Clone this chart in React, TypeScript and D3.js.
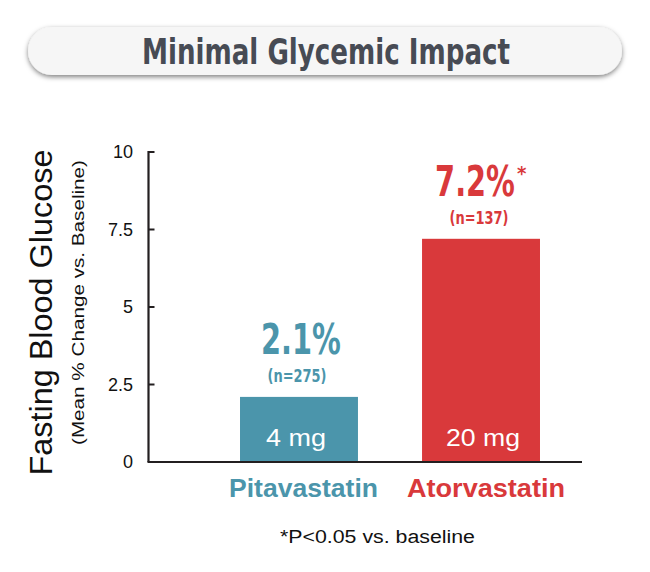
import React from "react";
import * as d3 from "d3";

const categories = ["Pitavastatin", "Atorvastatin"];
const doses = ["4 mg", "20 mg"];
const values = [2.1, 7.2];
const valueLabels = ["2.1%", "7.2%"];
const nLabels = ["(n=275)", "(n=137)"];
const significant = [false, true];
const yTicks = [0, 2.5, 5, 7.5, 10];
const yTickLabels = ["0", "2.5", "5", "7.5", "10"];
const colors = ["#4b95ab", "#d9393b"];

const W = 650;
const H = 572;

export default function App() {
  const y = d3.scaleLinear().domain([0, 10]).range([462, 152]);
  const x = d3
    .scaleBand<string>()
    .domain(categories)
    .range([149, 631])
    .paddingInner(0.352)
    .paddingOuter(0.5);
  const axisX = 148.5;
  const axisColor = "#231f20";
  const narrow = "'Liberation Sans Narrow', 'DejaVu Sans Condensed', 'Roboto Condensed', Arial, sans-serif";
  const sans = "'Liberation Sans', Arial, Helvetica, sans-serif";
  const catLabelLen = [149, 158];
  const catLabelDx = [4.5, 5];
  const doseLen = [60, 74];
  const doseDx = [-3, 2];

  return (
    <svg width={W} height={H} viewBox={`0 0 ${W} ${H}`} style={{ position: "absolute", left: 0, top: 0, background: "#fff" }}>
      <defs>
        <filter id="shadow" x="-10%" y="-50%" width="120%" height="200%">
          <feDropShadow dx="0" dy="2" stdDeviation="2.6" floodColor="#000" floodOpacity="0.5" />
        </filter>
      </defs>
      {/* title banner */}
      <rect x={28} y={27} width={594} height={48} rx={24} ry={24} fill="#f6f6f6" filter="url(#shadow)" />
      <text
        x={326}
        y={64}
        textAnchor="middle"
        fontFamily={narrow}
        fontWeight="bold"
        fontSize={36}
        fill="#474b54"
        textLength={368}
        lengthAdjust="spacingAndGlyphs"
      >
        Minimal Glycemic Impact
      </text>

      {/* y axis title */}
      <text
        transform={`translate(52,312.5) rotate(-90)`}
        textAnchor="middle"
        fontFamily={sans}
        fontSize={31}
        fill="#111"
        textLength={326}
        lengthAdjust="spacingAndGlyphs"
      >
        Fasting Blood Glucose
      </text>
      <text
        transform={`translate(84,302.5) rotate(-90)`}
        textAnchor="middle"
        fontFamily={sans}
        fontSize={17}
        fill="#111"
        textLength={285}
        lengthAdjust="spacingAndGlyphs"
      >
        (Mean % Change vs. Baseline)
      </text>

      {/* bars */}
      {categories.map((c, i) => (
        <rect
          key={c}
          x={x(c)}
          y={y(values[i])}
          width={x.bandwidth()}
          height={y(0) - y(values[i])}
          fill={colors[i]}
        />
      ))}

      {/* axes */}
      <line x1={axisX} x2={axisX} y1={y(10) - 1} y2={y(0)} stroke={axisColor} strokeWidth={2.2} />
      <line x1={axisX - 1} x2={582} y1={y(0)} y2={y(0)} stroke={axisColor} strokeWidth={2.2} />
      {yTicks.map((t, i) => (
        <g key={t}>
          {t > 0 && (
            <line x1={axisX} x2={axisX + 6} y1={y(t)} y2={y(t)} stroke={axisColor} strokeWidth={2} />
          )}
          <text
            x={133}
            y={y(t)}
            dy="0.36em"
            textAnchor="end"
            fontFamily={sans}
            fontSize={18}
            fill="#111"
          >
            {yTickLabels[i]}
          </text>
        </g>
      ))}

      {/* value labels */}
      {categories.map((c, i) => {
        const cx = (x(c) as number) + x.bandwidth() / 2;
        const top = y(values[i]);
        const vx = significant[i] ? cx - 6 : cx + 2;
        return (
          <g key={c + "lbl"}>
            <text
              transform={`translate(${vx},${top - 43}) scale(1,1.33)`}
              textAnchor="middle"
              fontFamily={narrow}
              fontWeight="bold"
              fontSize={32}
              fill={colors[i]}
            >
              {valueLabels[i]}
            </text>
            {significant[i] && (
              <text
                x={vx + 42}
                y={top - 59}
                fontFamily={narrow}
                fontWeight="bold"
                fontSize={20}
                fill={colors[i]}
              >
                *
              </text>
            )}
            <text
              x={cx - 2}
              y={top - 15}
              textAnchor="middle"
              fontFamily={narrow}
              fontWeight="bold"
              fontSize={17}
              fill={colors[i]}
              textLength={59}
              lengthAdjust="spacingAndGlyphs"
            >
              {nLabels[i]}
            </text>
            <text
              x={cx + doseDx[i]}
              y={446}
              textAnchor="middle"
              fontFamily={sans}
              fontSize={24}
              fill="#fff"
              textLength={doseLen[i]}
              lengthAdjust="spacingAndGlyphs"
            >
              {doses[i]}
            </text>
            <text
              x={cx + catLabelDx[i]}
              y={497}
              textAnchor="middle"
              fontFamily={sans}
              fontWeight="bold"
              fontSize={26}
              fill={colors[i]}
              textLength={catLabelLen[i]}
              lengthAdjust="spacingAndGlyphs"
            >
              {c}
            </text>
          </g>
        );
      })}

      {/* footnote */}
      <text
        x={377.5}
        y={543}
        textAnchor="middle"
        fontFamily={sans}
        fontSize={18}
        fill="#111"
        textLength={195}
        lengthAdjust="spacingAndGlyphs"
      >
        *P&lt;0.05 vs. baseline
      </text>
    </svg>
  );
}
